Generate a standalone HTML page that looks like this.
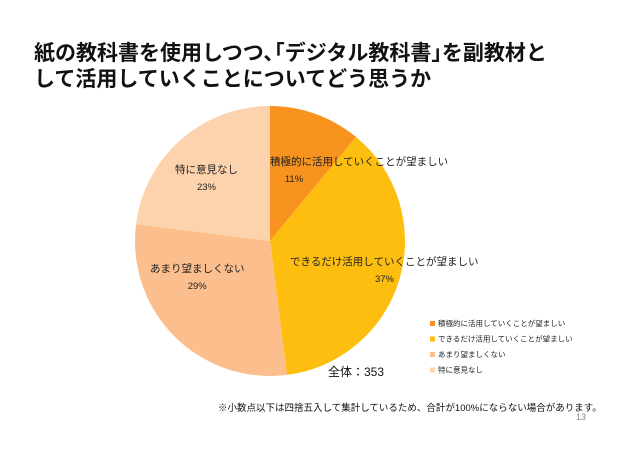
<!DOCTYPE html>
<html><head><meta charset="utf-8"><style>
body{margin:0;background:#fff;width:640px;height:450px;overflow:hidden;font-family:"Liberation Sans","Noto Sans CJK JP",sans-serif;}
svg{position:absolute;left:0;top:0}
</style></head><body>
<svg width="640" height="450" id="chart">
<text x="34" y="60" font-size="21" font-weight="bold" fill="#111">紙の教科書を使用しつつ､｢デジタル教科書｣を副教材と</text>
<text x="34" y="86" font-size="21" font-weight="bold" fill="#111">して活用していくことについてどう思うか</text>
<text x="328" y="376" font-size="12" fill="#111">全体：353</text>
<text x="218" y="411" font-size="9.5" fill="#111">※小数点以下は四捨五入して集計しているため、合計が100%にならない場合があります。</text>
<text x="576" y="420" font-size="9" fill="#888">13</text>
<g id="slices"></g><g id="labels"></g><g id="legend"></g>
</svg>
<script>
const categories=["積極的に活用していくことが望ましい","できるだけ活用していくことが望ましい","あまり望ましくない","特に意見なし"];
const values=[11,37,29,23];
const labelNames=["積極的に活用していくことが望ましい","できるだけ活用していくことが望ましい","あまり望ましくない","特に意見なし"];
const colors=["#F7931E","#FDBE10","#FBBE8C","#FDD3AE"];
const NS="http://www.w3.org/2000/svg";
const cx=270,cy=241,r=135;
const total=values.reduce((a,b)=>a+b,0);
const ang=v=>v/total*2*Math.PI;
const pt=(a,rr)=>[cx+rr*Math.sin(a),cy-rr*Math.cos(a)];
const gS=document.getElementById('slices'),gL=document.getElementById('labels'),gG=document.getElementById('legend');
const labelPos=[[270,165],[290,265],[150,272],[175,173]];
let a0=0;
values.forEach((v,i)=>{
  const a1=a0+ang(v);
  const p0=pt(a0,r),p1=pt(a1,r);
  const path=document.createElementNS(NS,'path');
  path.setAttribute('d',`M${cx},${cy}L${p0[0]},${p0[1]}A${r},${r} 0 ${a1-a0>Math.PI?1:0} 1 ${p1[0]},${p1[1]}Z`);
  path.setAttribute('fill',colors[i]);
  
  
  gS.appendChild(path);
  const [lx,ly]=labelPos[i];
  const t=document.createElementNS(NS,'text');
  t.setAttribute('x',lx);t.setAttribute('y',ly);t.setAttribute('font-size','10.5');t.setAttribute('fill','#222');
  t.textContent=labelNames[i];
  
  
  gL.appendChild(t);
  const tw=labelNames[i].length*10.5;
  const p=document.createElementNS(NS,'text');
  p.setAttribute('x',lx+(i===0?24:tw/2));p.setAttribute('y',ly+17);p.setAttribute('font-size','9.5');p.setAttribute('fill','#222');p.setAttribute('text-anchor','middle');
  p.textContent=v+'%';
  
  
  gL.appendChild(p);
  a0=a1;
});
categories.forEach((c,i)=>{
  const y=326+i*15.5;
  const s=document.createElementNS(NS,'rect');
  s.setAttribute('x',430);s.setAttribute('y',y-5);s.setAttribute('width',5);s.setAttribute('height',5);s.setAttribute('fill',colors[i]);
  
  
  gG.appendChild(s);
  const t=document.createElementNS(NS,'text');
  t.setAttribute('x',438);t.setAttribute('y',y);t.setAttribute('font-size','7.5');t.setAttribute('fill','#222');
  t.textContent=c;
  
  
  gG.appendChild(t);
});
</script>
</body></html>
